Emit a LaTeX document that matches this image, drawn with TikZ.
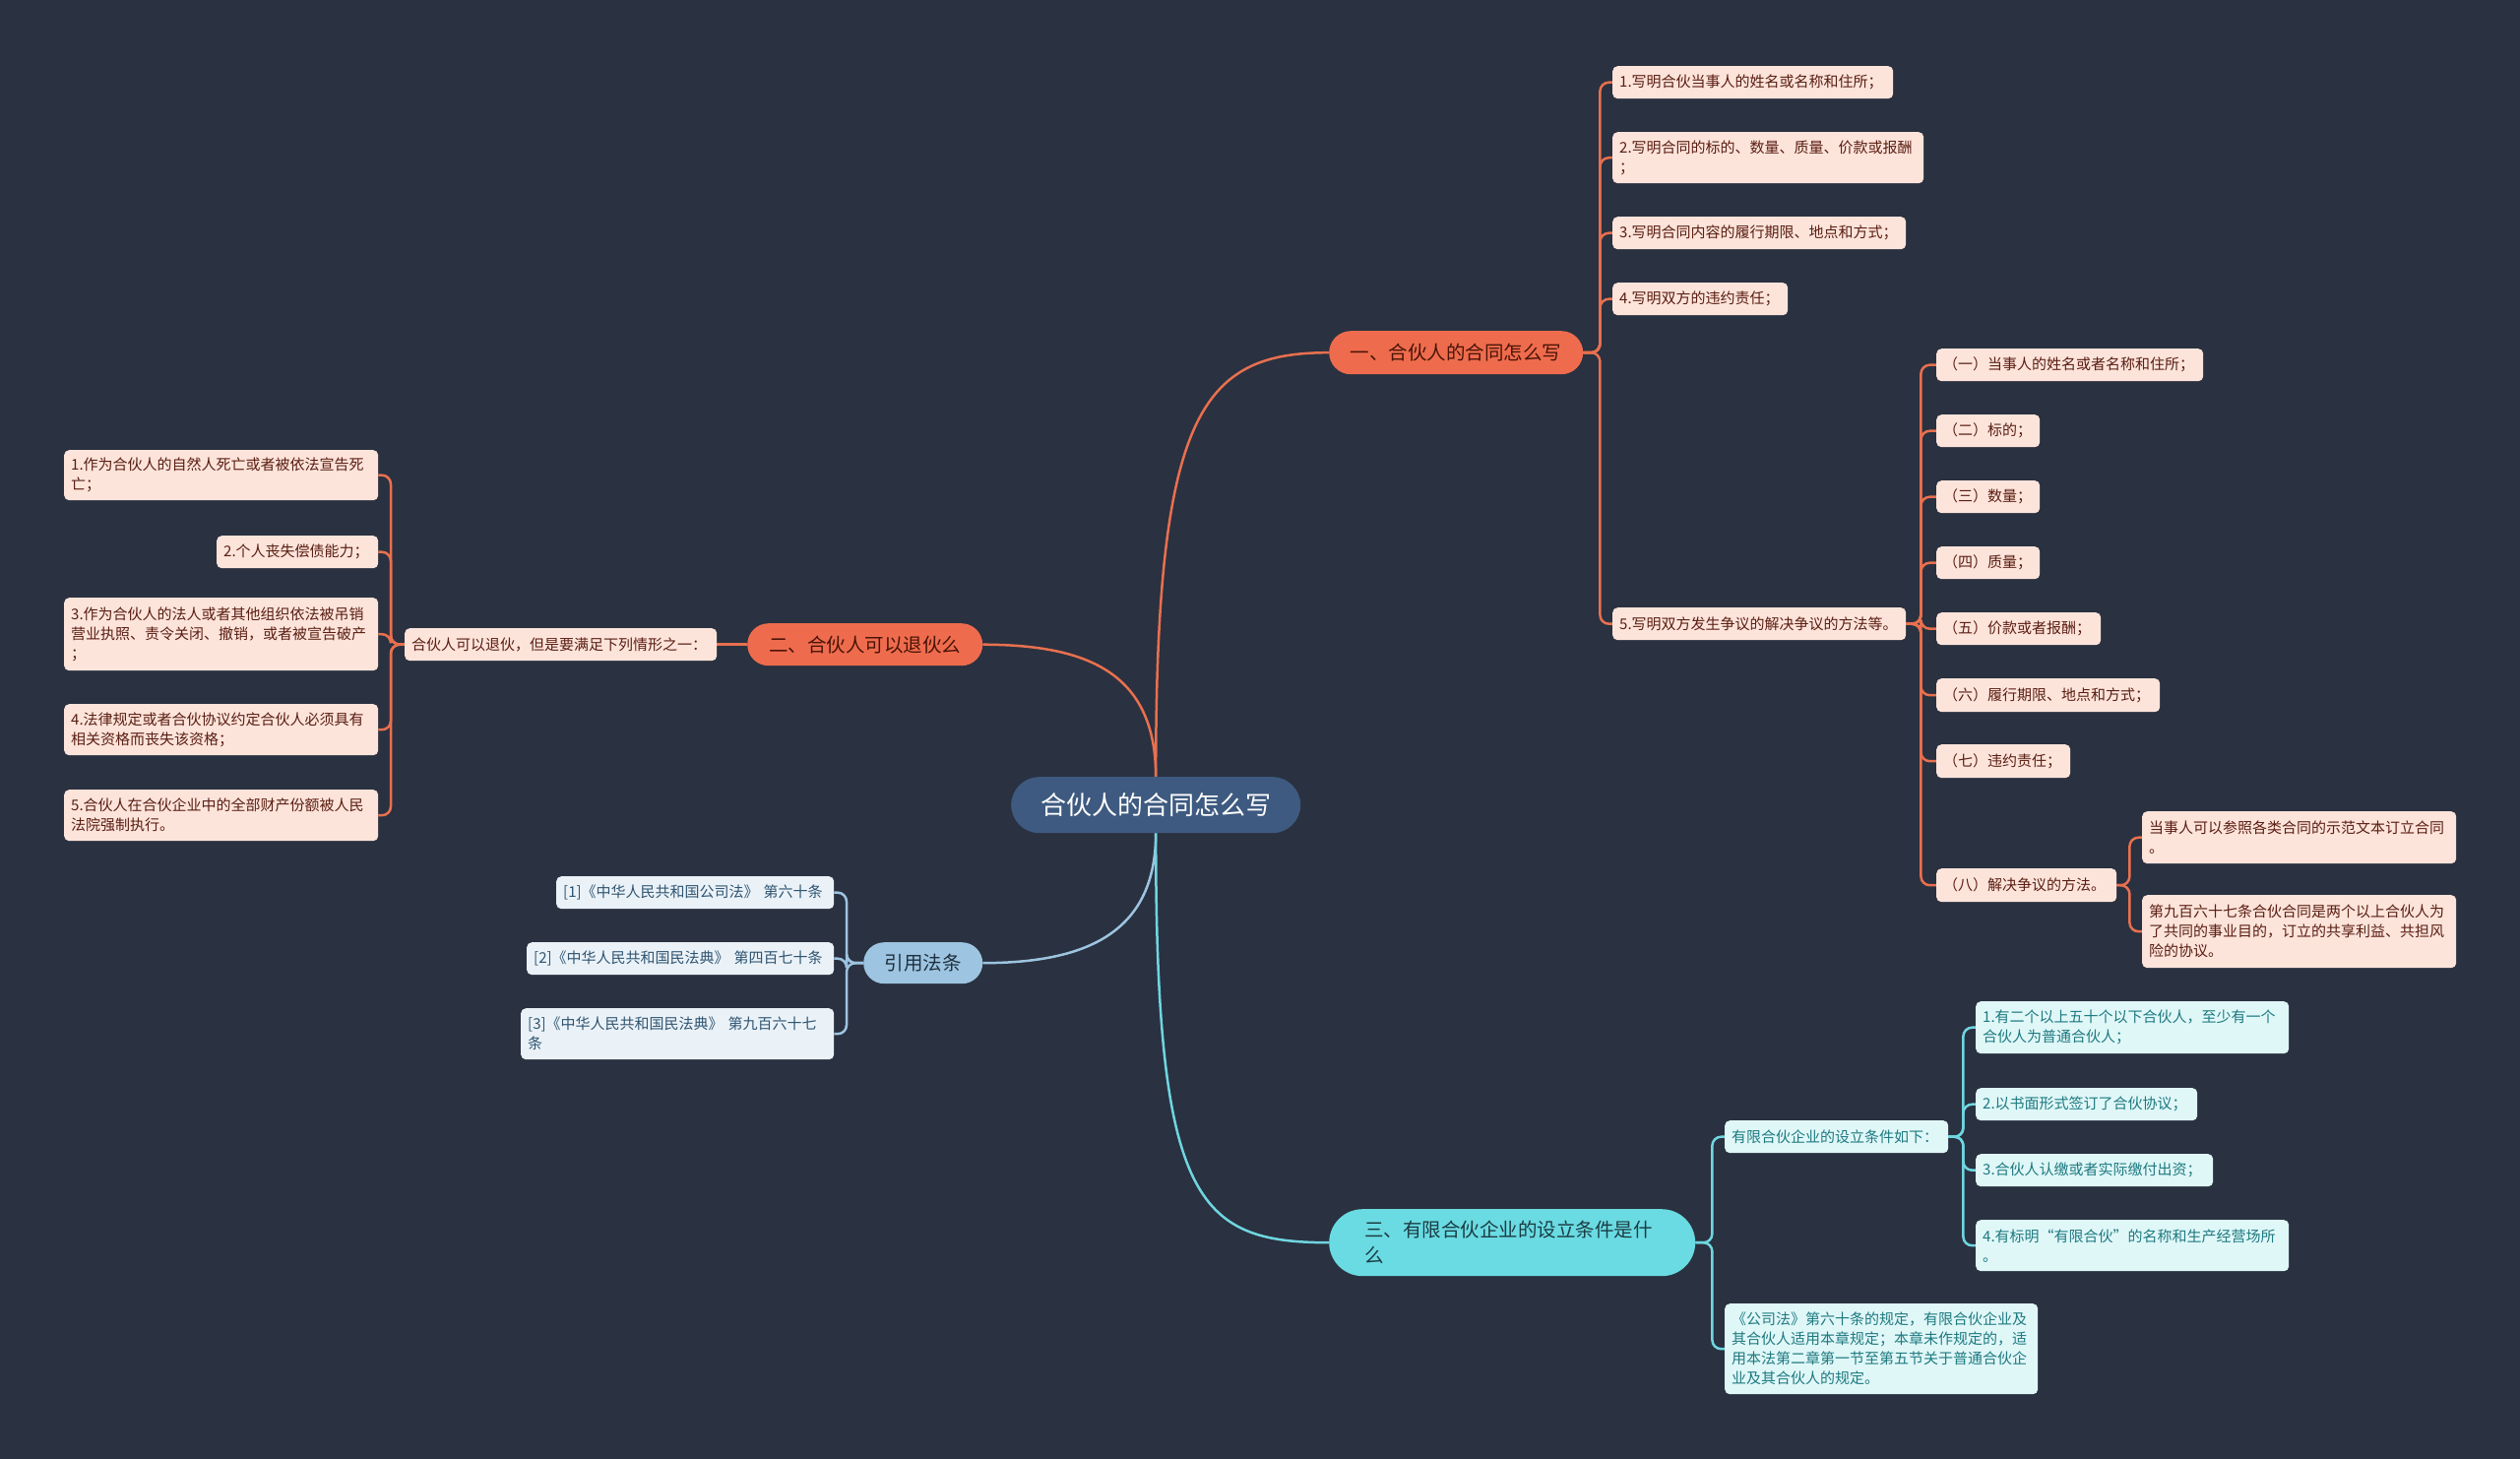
\documentclass[tikz,border=0pt]{standalone}
\usepackage{fontspec}
\setmainfont{Noto Sans CJK SC}
\usetikzlibrary{backgrounds}
\definecolor{bgc}{HTML}{2A3140}
\definecolor{rootc}{HTML}{3E5A80}
\definecolor{orangec}{HTML}{EE6C4D}
\definecolor{olinec}{HTML}{E8704F}
\definecolor{oleafc}{HTML}{FDE4DB}
\definecolor{otextc}{HTML}{5A1E12}
\definecolor{obrtext}{HTML}{4A1408}
\definecolor{cyanc}{HTML}{6ADBE2}
\definecolor{clinec}{HTML}{6FD6E0}
\definecolor{cleafc}{HTML}{E0F7F8}
\definecolor{ctextc}{HTML}{1E7A80}
\definecolor{cbrtext}{HTML}{1C3C44}
\definecolor{bluec}{HTML}{9DC4E0}
\definecolor{blinec}{HTML}{9DC4E0}
\definecolor{bleafc}{HTML}{EAF2F8}
\definecolor{btextc}{HTML}{2F5470}
\definecolor{bbrtext}{HTML}{1F3040}
\tikzset{
  leaf/.style={rectangle, rounded corners=5pt, inner xsep=7pt, inner ysep=0pt, align=left, anchor=north west, font=\fontsize{15}{20}\selectfont},
  oleaf/.style={leaf, fill=oleafc, text=otextc},
  cleaf/.style={leaf, fill=cleafc, text=ctextc},
  bleaf/.style={leaf, fill=bleafc, text=btextc},
  branch/.style={rectangle, inner sep=0pt, align=center, anchor=north west, font=\fontsize{19.5}{26}\selectfont},
  oline/.style={draw=olinec, line width=2.5pt},
  cline/.style={draw=clinec, line width=2.5pt},
  bline/.style={draw=blinec, line width=2.5pt},
  elbow/.style={rounded corners=9pt}
}
\begin{document}
\begin{tikzpicture}[x=1pt,y=-1pt]
\useasboundingbox (0,0) rectangle (2560,1482);

% root
\node[branch, fill=rootc, text=white, minimum width=294pt, minimum height=57pt, rounded corners=28.5pt, font=\fontsize{26}{32}\selectfont] (root) at (1027,789) {合伙人的合同怎么写};

% branch 1
\node[branch, fill=orangec, text=obrtext, minimum width=258pt, minimum height=44pt, rounded corners=22pt] (b1) at (1350,336) {一、合伙人的合同怎么写};
\node[oleaf, text width=271pt, minimum height=33pt] (l1) at (1638,67) {1.写明合伙当事人的姓名或名称和住所；};
\node[oleaf, text width=302pt, minimum height=52pt] (l2) at (1638,134) {2.写明合同的标的、数量、质量、价款或报酬\\；};
\node[oleaf, text width=284pt, minimum height=33pt] (l3) at (1638,220) {3.写明合同内容的履行期限、地点和方式；};
\node[oleaf, text width=164pt, minimum height=33pt] (l4) at (1638,287) {4.写明双方的违约责任；};
\node[oleaf, text width=284pt, minimum height=33pt] (l5) at (1638,617) {5.写明双方发生争议的解决争议的方法等。};

\node[oleaf, text width=257pt, minimum height=33pt] (s1) at (1967,354) {（一）当事人的姓名或者名称和住所；};
\node[oleaf, text width=91pt, minimum height=33pt] (s2) at (1967,421) {（二）标的；};
\node[oleaf, text width=91pt, minimum height=33pt] (s3) at (1967,488) {（三）数量；};
\node[oleaf, text width=91pt, minimum height=33pt] (s4) at (1967,555) {（四）质量；};
\node[oleaf, text width=153pt, minimum height=33pt] (s5) at (1967,622) {（五）价款或者报酬；};
\node[oleaf, text width=213pt, minimum height=34pt] (s6) at (1967,689) {（六）履行期限、地点和方式；};
\node[oleaf, text width=122pt, minimum height=34pt] (s7) at (1967,756) {（七）违约责任；};
\node[oleaf, text width=169pt, minimum height=34pt] (s8) at (1967,882) {（八）解决争议的方法。};

\node[oleaf, text width=305pt, minimum height=53pt] (t1) at (2176,824) {当事人可以参照各类合同的示范文本订立合同\\。};
\node[oleaf, text width=305pt, minimum height=74pt] (t2) at (2176,909) {第九百六十七条合伙合同是两个以上合伙人为\\了共同的事业目的，订立的共享利益、共担风\\险的协议。};

% branch 2
\node[branch, fill=orangec, text=obrtext, minimum width=239pt, minimum height=43pt, rounded corners=21.5pt] (b2) at (759,633) {二、合伙人可以退伙么};
\node[oleaf, text width=303pt, minimum height=33pt] (q) at (411,638) {合伙人可以退伙，但是要满足下列情形之一：};
\node[oleaf, text width=305pt, minimum height=51pt] (r1) at (65,457) {1.作为合伙人的自然人死亡或者被依法宣告死\\亡；};
\node[oleaf, text width=150pt, minimum height=33pt] (r2) at (220,544) {2.个人丧失偿债能力；};
\node[oleaf, text width=305pt, minimum height=74pt] (r3) at (65,607) {3.作为合伙人的法人或者其他组织依法被吊销\\营业执照、责令关闭、撤销，或者被宣告破产\\；};
\node[oleaf, text width=305pt, minimum height=52pt] (r4) at (65,715) {4.法律规定或者合伙协议约定合伙人必须具有\\相关资格而丧失该资格；};
\node[oleaf, text width=305pt, minimum height=52pt] (r5) at (65,802) {5.合伙人在合伙企业中的全部财产份额被人民\\法院强制执行。};

% citations
\node[branch, fill=bluec, text=bbrtext, minimum width=121pt, minimum height=42pt, rounded corners=21pt] (b4) at (877,957) {引用法条};
\node[bleaf, text width=268pt, minimum height=33pt] (c1) at (565,890) {[1]《中华人民共和国公司法》~第六十条};
\node[bleaf, text width=298pt, minimum height=33pt] (c2) at (535,957) {[2]《中华人民共和国民法典》~第四百七十条};
\node[bleaf, text width=304pt, minimum height=52pt] (c3) at (529,1024) {[3]《中华人民共和国民法典》~第九百六十七\\条};

% branch 3
\node[branch, fill=cyanc, text=cbrtext, minimum width=372pt, minimum height=68pt, rounded corners=34pt, align=left, text width=300pt, inner xsep=36pt] (b3) at (1350,1228) {三、有限合伙企业的设立条件是什\\么};
\node[cleaf, text width=213pt, minimum height=33pt] (p1) at (1752,1138) {有限合伙企业的设立条件如下：};
\node[cleaf, text width=304pt, minimum height=92pt] (p2) at (1752,1324) {《公司法》第六十条的规定，有限合伙企业及\\其合伙人适用本章规定；本章未作规定的，适\\用本法第二章第一节至第五节关于普通合伙企\\业及其合伙人的规定。};
\node[cleaf, text width=304pt, minimum height=53pt] (u1) at (2007,1017) {1.有二个以上五十个以下合伙人，至少有一个\\合伙人为普通合伙人；};
\node[cleaf, text width=211pt, minimum height=33pt] (u2) at (2007,1105) {2.以书面形式签订了合伙协议；};
\node[cleaf, text width=227pt, minimum height=33pt] (u3) at (2007,1172) {3.合伙人认缴或者实际缴付出资；};
\node[cleaf, text width=304pt, minimum height=52pt] (u4) at (2007,1239) {4.有标明“有限合伙”的名称和生产经营场所\\。};

\begin{pgfonlayer}{background}
\fill[bgc] (0,0) rectangle (2560,1482);
% root to branches
\draw[oline] (root.north) .. controls (1174,420) and (1220,358) .. (b1.west);
\draw[oline] (root.north) .. controls (1174,680) and (1100,655) .. (b2.east);
\draw[bline] (root.south) .. controls (1174,950) and (1100,978) .. (b4.east);
\draw[cline] (root.south) .. controls (1174,1220) and (1215,1262) .. (b3.west);
% branch 1 children
\foreach \c in {l1,l2,l3,l4,l5}
  \draw[oline, elbow] (b1.east) -- ++(17,0) |- (\c.west);
\foreach \c in {s1,s2,s3,s4,s5,s6,s7,s8}
  \draw[oline, elbow] (l5.east) -- ++(15,0) |- (\c.west);
\foreach \c in {t1,t2}
  \draw[oline, elbow] (s8.east) -- ++(13,0) |- (\c.west);
% branch 2 children
\draw[oline] (b2.west) -- (q.east);
\foreach \c in {r1,r2,r3,r4,r5}
  \draw[oline, elbow] (q.west) -- ++(-14,0) |- (\c.east);
% citations
\foreach \c in {c1,c2,c3}
  \draw[bline, elbow] (b4.west) -- ++(-17,0) |- (\c.east);
% branch 3
\foreach \c in {p1,p2}
  \draw[cline, elbow] (b3.east) -- ++(17,0) |- (\c.west);
\foreach \c in {u1,u2,u3,u4}
  \draw[cline, elbow] (p1.east) -- ++(15,0) |- (\c.west);
\end{pgfonlayer}
\end{tikzpicture}
\end{document}
